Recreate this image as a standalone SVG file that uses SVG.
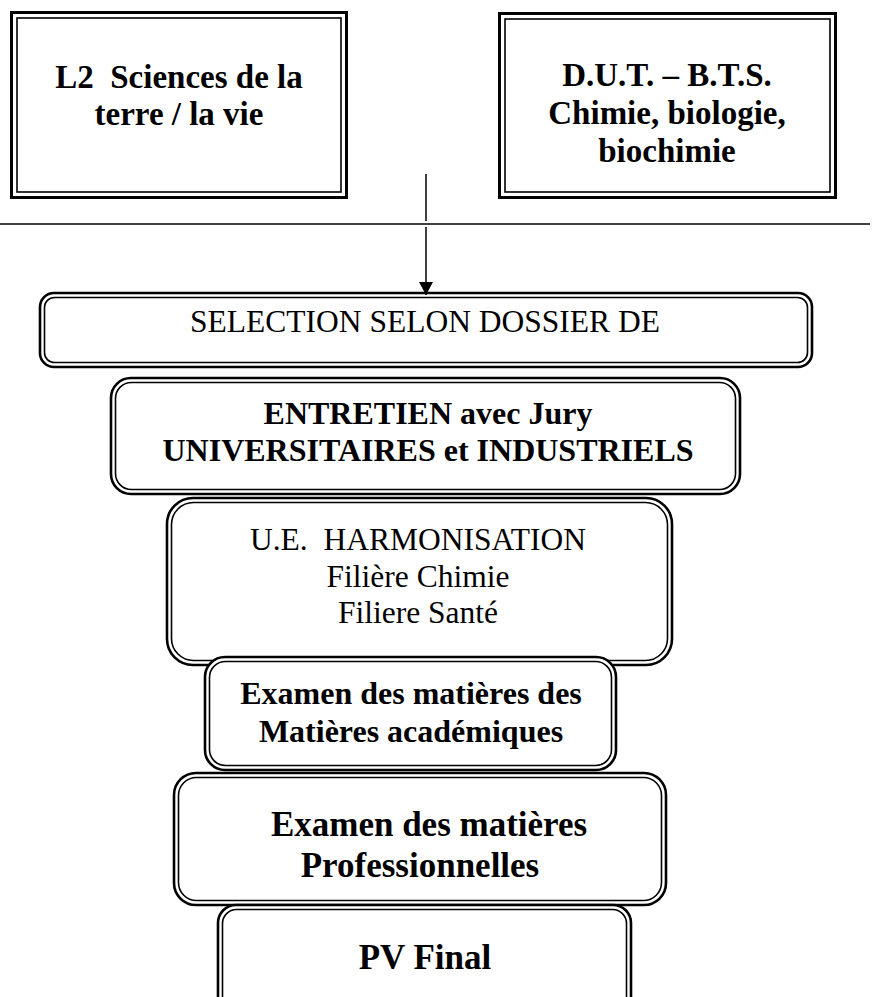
<svg xmlns="http://www.w3.org/2000/svg" width="884" height="997" viewBox="0 0 884 997">
<style>
.o{fill:none;stroke:#000;stroke-width:2.6}
.i{fill:none;stroke:#000;stroke-width:1.6}
.bg{fill:#fff;stroke:none}
.b{font-family:"Liberation Serif","Times New Roman",serif;font-weight:bold;font-size:32px;fill:#000;text-anchor:middle}
.bt{font-size:33px}
.bl{font-size:35px}
.r{font-family:"Liberation Serif","Times New Roman",serif;font-size:31.5px;fill:#000;text-anchor:middle}
.ln{stroke:#000;stroke-width:1.5;fill:none}
</style>
<defs>
<marker id="ah" markerWidth="14" markerHeight="14" refX="13" refY="7" orient="auto" markerUnits="userSpaceOnUse" viewBox="0 0 14 14">
<path d="M0,0 L13,7 L0,14 Z" fill="#000"/>
</marker>
</defs>
<rect width="884" height="997" fill="#fff"/>

<g id="box-l2">
<rect x="11.5" y="12.5" width="335" height="185" fill="#fff" stroke="#000" stroke-width="3"/>
<rect x="17" y="18" width="324" height="174" class="i"/>
<text class="b bt" x="179" y="88" xml:space="preserve">L2  Sciences de la</text>
<text class="b bt" x="179" y="125">terre / la vie</text>
</g>

<g id="box-dut">
<rect x="499.5" y="13.5" width="336" height="184" fill="#fff" stroke="#000" stroke-width="3"/>
<rect x="505" y="19" width="325" height="173" class="i"/>
<text class="b bt" x="667" y="86">D.U.T. – B.T.S.</text>
<text class="b bt" x="667" y="124">Chimie, biologie,</text>
<text class="b bt" x="667" y="162">biochimie</text>
</g>

<g id="box-selection">
<rect x="40" y="293" width="772" height="74" rx="14" class="bg"/>
<rect x="40" y="293" width="772" height="74" rx="14" class="o"/>
<rect x="44.5" y="297.5" width="763" height="65" rx="10" class="i"/>
<text class="r" x="425" y="332">SELECTION SELON DOSSIER DE</text>
</g>

<g id="connectors">
<line class="ln" x1="0" y1="224" x2="870" y2="224"/>
<line class="ln" x1="426" y1="174" x2="426" y2="221"/>
<line class="ln" x1="426" y1="227" x2="426" y2="295" marker-end="url(#ah)"/>
</g>

<g id="box-entretien">
<rect x="111" y="378" width="629" height="116" rx="20" class="bg"/>
<rect x="111" y="378" width="629" height="116" rx="20" class="o"/>
<rect x="115.5" y="382.5" width="620" height="107" rx="16" class="i"/>
<text class="b" x="428" y="424">ENTRETIEN avec Jury</text>
<text class="b" x="428" y="461">UNIVERSITAIRES et INDUSTRIELS</text>
</g>

<g id="box-ue">
<rect x="167" y="498" width="505" height="167" rx="26" class="bg"/>
<rect x="167" y="498" width="505" height="167" rx="26" class="o"/>
<rect x="171.5" y="502.5" width="496" height="158" rx="22" class="i"/>
<text class="r" x="418" y="550" xml:space="preserve">U.E.  HARMONISATION</text>
<text class="r" x="418" y="587">Filière Chimie</text>
<text class="r" x="418" y="623">Filiere Santé</text>
</g>

<g id="box-examen1">
<rect x="205" y="657" width="411" height="113" rx="20" class="bg"/>
<rect x="205" y="657" width="411" height="113" rx="20" class="o"/>
<rect x="209.5" y="661.5" width="402" height="104" rx="16" class="i"/>
<text class="b" x="411" y="704">Examen des matières des</text>
<text class="b" x="411" y="742">Matières académiques</text>
</g>

<g id="box-examen2">
<rect x="174" y="773" width="492" height="132" rx="22" class="bg"/>
<rect x="174" y="773" width="492" height="132" rx="22" class="o"/>
<rect x="178.5" y="777.5" width="483" height="123" rx="18" class="i"/>
<text class="b bl" x="429" y="836">Examen des matières</text>
<text class="b bl" x="420" y="877">Professionnelles</text>
</g>

<g id="box-pv">
<rect x="218" y="905" width="413" height="120" rx="18" class="bg"/>
<rect x="218" y="905" width="413" height="120" rx="18" class="o"/>
<rect x="222.5" y="909.5" width="404" height="111" rx="14" class="i"/>
<text class="b bl" x="425" y="969">PV Final</text>
</g>
</svg>
